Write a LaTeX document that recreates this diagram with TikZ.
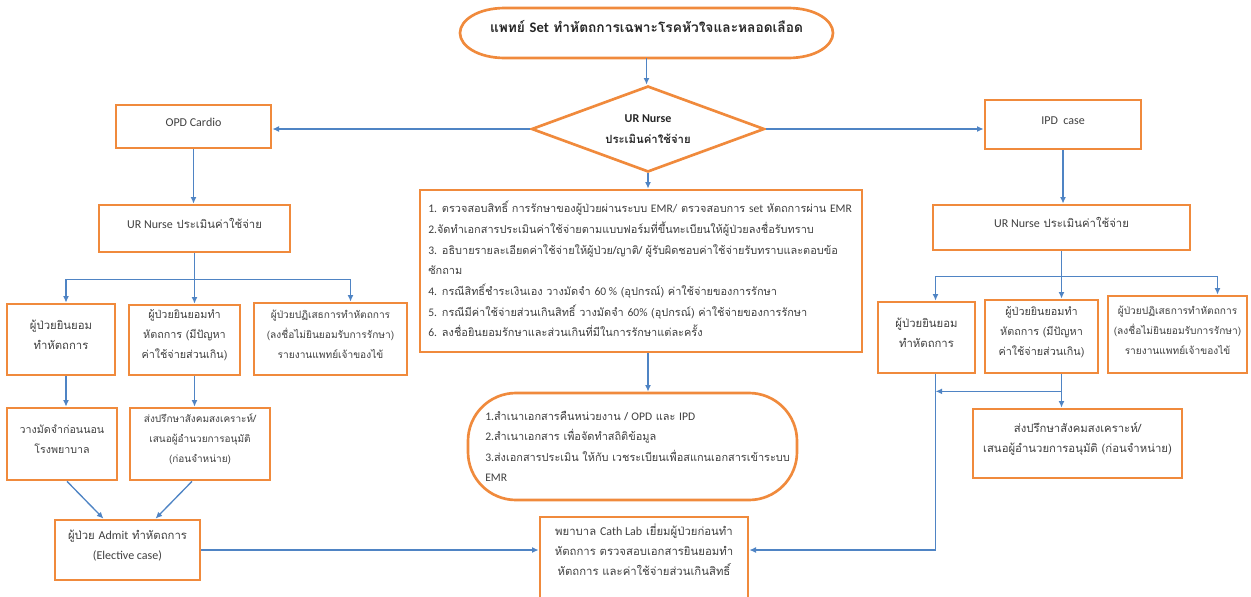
\documentclass[tikz,border=0pt]{standalone}
\usepackage{fontspec}
\setmainfont{Loma}[Script=Thai]
\newfontfamily\lat{Carlito}[Scale=1.06]
\newcommand\latn[1]{{\lat #1}}
\usetikzlibrary{shapes.geometric,arrows.meta,calc,fit}
\definecolor{org}{HTML}{F08A3C}
\definecolor{blu}{HTML}{4F84C4}
\definecolor{txt}{HTML}{404040}
\begin{document}
\begin{tikzpicture}[x=0.75pt,y=-0.75pt,
  box/.style={draw=org,line width=2pt,fill=white,inner sep=0pt,align=center,text=txt,font=\fontsize{8.5}{15}\selectfont},
  smallbox/.style={box,font=\fontsize{7.6}{15}\selectfont},
  txtnode/.style={align=center,text=txt,font=\fontsize{8.5}{15}\selectfont,inner sep=0pt},
  listtxt/.style={align=left,text=txt,inner sep=0pt,anchor=north west},
  outline/.style={draw=org,line width=2pt},
  arr/.style={draw=blu,line width=1pt,-{Latex[length=5pt,width=4.5pt]}},
  ln/.style={draw=blu,line width=1pt}]
\useasboundingbox (0,0) rectangle (1251,596);

% top
\draw[outline] (505,8) -- (788,8) .. controls (815,8) and (833,20) .. (833,33)
   .. controls (833,46) and (815,58) .. (788,58) -- (505,58)
   .. controls (478,58) and (460,46) .. (460,33)
   .. controls (460,20) and (478,8) .. (505,8) -- cycle;
\node[fit={(460,8) (833,58)},inner sep=0pt,font=\bfseries\fontsize{10.3}{12}\selectfont,text=black!85] (top)
      {แพทย์ \latn{Set} ทำหัตถการเฉพาะโรคหัวใจและหลอดเลือด};

% diamond
\node[diamond,draw=org,line width=2pt,minimum width=174.75pt,minimum height=64.5pt,inner sep=0pt] (dia) at (648,129) {};
\node[txtnode,font=\bfseries\fontsize{8.5}{15.5}\selectfont,text=black!85] (diatx) at (dia) {\latn{UR Nurse}\\ประเมินค่าใช้จ่าย};

\node[box,fit={(116,105) (271,148)}] (opd) {\latn{OPD Cardio}};
\node[box,fit={(985,100) (1141,149)}] (ipd) {\latn{IPD\ \ case}};

% middle
\node[box,fit={(420,190) (862,352)}] (mid) {};
\node[listtxt,font=\fontsize{8.2}{15.5}\selectfont] (midtx) at (428,201) {%
\latn{1.} ตรวจสอบสิทธิ์ การรักษาของผู้ป่วยผ่านระบบ \latn{EMR/} ตรวจสอบการ \latn{set} หัตถการผ่าน \latn{EMR}\\
\latn{2.}จัดทำเอกสารประเมินค่าใช้จ่ายตามแบบฟอร์มที่ขึ้นทะเบียนให้ผู้ป่วยลงชื่อรับทราบ\\
\latn{3.} อธิบายรายละเอียดค่าใช้จ่ายให้ผู้ป่วย/ญาติ/ ผู้รับผิดชอบค่าใช้จ่ายรับทราบและตอบข้อ\\
ซักถาม\\
\latn{4.} กรณีสิทธิ์ชำระเงินเอง วางมัดจำ \latn{60 \%} (อุปกรณ์) ค่าใช้จ่ายของการรักษา\\
\latn{5.} กรณีมีค่าใช้จ่ายส่วนเกินสิทธิ์ วางมัดจำ \latn{60\%} (อุปกรณ์) ค่าใช้จ่ายของการรักษา\\
\latn{6.} ลงชื่อยินยอมรักษาและส่วนเกินที่มีในการรักษาแต่ละครั้ง};

\node[box,rounded corners=36pt,fit={(468,393) (797,500)}] (ell) {};
\node[listtxt,font=\fontsize{8.2}{15.2}\selectfont] (elltx) at (485,411) {%
\latn{1.}สำเนาเอกสารคืนหน่วยงาน / \latn{OPD} และ \latn{IPD}\\
\latn{2.}สำเนาเอกสาร เพื่อจัดทำสถิติข้อมูล\\
\latn{3.}ส่งเอกสารประเมิน ให้กับ เวชระเบียนเพื่อสแกนเอกสารเข้าระบบ\\
\latn{EMR}};

\node[box,fit={(540,517) (748,612)}] (cb) {};
\node[txtnode] (cbtx) at (644,550) {พยาบาล \latn{Cath Lab} เยี่ยมผู้ป่วยก่อนทำ\\หัตถการ ตรวจสอบเอกสารยินยอมทำ\\หัตถการ และค่าใช้จ่ายส่วนเกินสิทธิ์};

% left column
\node[box,fit={(99,205) (290,252)}] (lur) {\latn{UR Nurse} ประเมินค่าใช้จ่าย};
\node[box,fit={(7,304) (115,375)}] (l1) {ผู้ป่วยยินยอม\\ทำหัตถการ};
\node[box,font=\fontsize{8.1}{15}\selectfont,fit={(129,305) (240,375)}] (l2) {ผู้ป่วยยินยอมทำ\\หัตถการ (มีปัญหา\\ค่าใช้จ่ายส่วนเกิน)};
\node[smallbox,fit={(254,303) (407,375)}] (l3) {ผู้ป่วยปฏิเสธการทำหัตถการ\\(ลงชื่อไม่ยินยอมรับการรักษา)\\รายงานแพทย์เจ้าของไข้};
\node[box,font=\fontsize{8}{15}\selectfont,fit={(7,408) (117,480)}] (l4) {วางมัดจำก่อนนอน\\โรงพยาบาล};
\node[box,font=\fontsize{7.5}{15}\selectfont,fit={(130,408) (270,480)}] (l5) {ส่งปรึกษาสังคมสงเคราะห์/\\เสนอผู้อำนวยการอนุมัติ\\(ก่อนจำหน่าย)};
\node[box,fit={(55,520) (200,580)}] (l6) {ผู้ป่วย \latn{Admit} ทำหัตถการ\\\latn{(Elective case)}};

% right column
\node[box,fit={(933,205) (1190,250)}] (rur) {\latn{UR Nurse} ประเมินค่าใช้จ่าย};
\node[box,fit={(878,302) (975,373)}] (r1) {ผู้ป่วยยินยอม\\ทำหัตถการ};
\node[box,font=\fontsize{8.1}{15}\selectfont,fit={(985,300) (1098,373)}] (r2) {ผู้ป่วยยินยอมทำ\\หัตถการ (มีปัญหา\\ค่าใช้จ่ายส่วนเกิน)};
\node[smallbox,fit={(1108,296) (1247,373)}] (r3) {ผู้ป่วยปฏิเสธการทำหัตถการ\\(ลงชื่อไม่ยินยอมรับการรักษา)\\รายงานแพทย์เจ้าของไข้};
\node[box,fit={(973,409) (1182,478)}] (r4) {ส่งปรึกษาสังคมสงเคราะห์/\\เสนอผู้อำนวยการอนุมัติ (ก่อนจำหน่าย)};

% connectors centre
\draw[arr] (top.south) -- (top.south |- dia.north);
\draw[arr] (dia.west) -- (dia.west -| opd.east);
\draw[arr] (dia.east) -- (dia.east -| ipd.west);
\draw[arr] (dia.south) -- (dia.south |- mid.north);
\draw[arr] (dia.south |- mid.south) -- (dia.south |- ell.north);

% connectors left
\draw[arr] (opd.south) -- (opd.south |- lur.north);
\draw[ln] (lur.south) -- ++(0,26) coordinate (lb);
\draw[arr] (lb) -| ($(l1.north)+(5,0)$);
\draw[arr] (lb) -- (lb |- l2.north);
\draw[arr] (lb) -| ($(l3.north)+(20,0)$);
\draw[arr] ($(l1.south)+(5,0)$) coordinate (a1) -- (a1 |- l4.north);
\draw[arr] (lb |- l2.south) -- (lb |- l5.north);
\draw[arr] ($(l4.south)+(5,0)$) -- ($(l6.north)+(-24,0)$);
\draw[arr] ($(l5.south)+(-8,0)$) -- ($(l6.north)+(28,0)$);
\draw[arr] (l6.east) -- (l6.east -| cb.west);

% connectors right
\draw[arr] (ipd.south) -- (ipd.south |- rur.north);
\draw[ln] (rur.south) -- ++(0,25) coordinate (rb);
\draw[arr] (rb) -| ($(r1.north)+(9,0)$);
\draw[arr] (rb) -- (rb |- r2.north);
\draw[arr] (rb) -| ($(r3.north)+(40,0)$);
\coordinate (r1b) at ($(r1.south)+(9,0)$);
\draw[ln] (rb |- r2.south) -- ++(0,17) coordinate (rc);
\draw[arr] (rc) -- (rc |- r4.north);
\draw[arr] (rc) -- (rc -| r1b);
\draw[arr] (r1b) |- (l6.east -| cb.east);
\end{tikzpicture}
\end{document}
